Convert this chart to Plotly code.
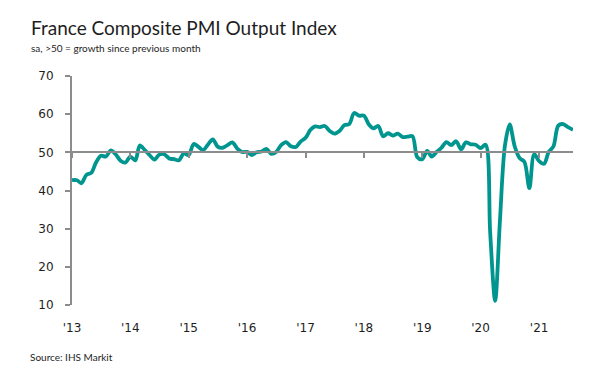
import plotly.graph_objects as go
import pandas as pd

months = pd.date_range("2013-01-01", "2021-08-01", freq="MS")
pmi = [
    # 2013
    42.7, 42.7, 41.9, 44.1, 44.6, 47.4, 49.1, 48.9, 50.5, 49.5, 47.8, 47.3,
    # 2014
    48.9, 47.9, 51.8, 50.6, 49.3, 48.1, 49.4, 49.5, 48.4, 48.2, 47.9, 49.7,
    # 2015
    49.3, 52.2, 51.5, 50.6, 52.0, 53.4, 51.5, 51.2, 51.9, 52.6, 51.0, 50.1,
    # 2016
    50.1, 49.3, 50.0, 50.2, 50.9, 49.6, 50.1, 51.9, 52.7, 51.6, 51.4, 52.8,
    # 2017
    53.8, 55.9, 56.8, 56.6, 56.9, 55.6, 54.9, 55.6, 57.1, 57.4, 60.3, 59.6,
    # 2018
    59.6, 57.3, 56.3, 56.9, 54.2, 55.0, 54.4, 54.9, 54.0, 54.1, 54.2, 48.7,
    # 2019
    48.2, 50.4, 48.9, 50.1, 51.2, 52.7, 51.9, 52.9, 50.8, 52.6, 52.1, 52.0,
    # 2020
    51.1, 52.0, 28.9, 11.1, 32.1, 51.7, 57.3, 51.6, 48.5, 47.5, 40.6, 49.5,
    # 2021
    47.7, 47.0, 50.0, 51.6, 57.0, 57.4, 56.6, 55.9,
]
tick_dates = pd.date_range("2013-01-01", "2021-01-01", freq="YS")
tick_labels = ["'13", "'14", "'15", "'16", "'17", "'18", "'19", "'20", "'21"]

TEAL = "#00968f"
GREY = "#8c8c8c"
TXT = "#1e1e1e"
TICKFONT = dict(family="DejaVu Sans", size=12, color=TXT)

fig = go.Figure()
fig.add_trace(go.Scatter(
    x=months, y=pmi, mode="lines",
    line=dict(color=TEAL, width=3.8, shape="spline", smoothing=0.9),
    hoverinfo="x+y", showlegend=False,
))
# helper trace so the 50-line axis (xaxis2) is drawn
fig.add_trace(go.Scatter(
    x=months, y=pmi, mode="lines", xaxis="x2",
    line=dict(color="rgba(0,0,0,0)", width=0),
    hoverinfo="skip", showlegend=False,
))

# page body has an 8px default margin; the figure is shrunk to fit the window
PLOT_W = 501
PLOT_H = 229
x_range = [months[0], months[-1]]
fig.update_layout(
    template="none",
    width=592, height=369,
    margin=dict(l=64, r=27, t=68, b=72, pad=0),
    paper_bgcolor="white", plot_bgcolor="white",
    xaxis=dict(
        range=x_range, tickvals=tick_dates, ticktext=tick_labels,
        showline=False, showgrid=False, zeroline=False, ticks="",
        tickfont=TICKFONT, ticklabelstandoff=14, automargin=False,
    ),
    xaxis2=dict(
        range=x_range, overlaying="x", anchor="free",
        position=(50 - 10) / (70 - 10), side="bottom",
        tickvals=tick_dates, showticklabels=False,
        showline=True, linecolor=GREY, linewidth=2,
        ticks="outside", ticklen=5, tickwidth=1.5, tickcolor=GREY,
        showgrid=False, zeroline=False, automargin=False,
    ),
    yaxis=dict(
        range=[10, 70], dtick=10, tick0=10,
        showline=True, linecolor=GREY, linewidth=2,
        ticks="outside", ticklen=5, tickwidth=1.5, tickcolor=GREY,
        showgrid=False, zeroline=False,
        tickfont=TICKFONT, ticklabelstandoff=9, automargin=False,
    ),
    annotations=[
        dict(text="France Composite PMI Output Index", xref="paper", yref="paper",
             x=(29 - 72) / PLOT_W, y=1 + (76 - 27) / PLOT_H, xanchor="left", yanchor="middle",
             showarrow=False, font=dict(family="Lato", size=19, color=TXT)),
        dict(text="sa, >50 = growth since previous month", xref="paper", yref="paper",
             x=(29 - 72) / PLOT_W, y=1 + (76 - 47.5) / PLOT_H, xanchor="left", yanchor="middle",
             showarrow=False, font=dict(family="Lato", size=10, color=TXT)),
        dict(text="Source: IHS Markit", xref="paper", yref="paper",
             x=(28 - 72) / PLOT_W, y=-(357 - 305) / PLOT_H, xanchor="left", yanchor="middle",
             showarrow=False, font=dict(family="Lato", size=10, color=TXT)),
    ],
)

fig.write_html("out.html")
